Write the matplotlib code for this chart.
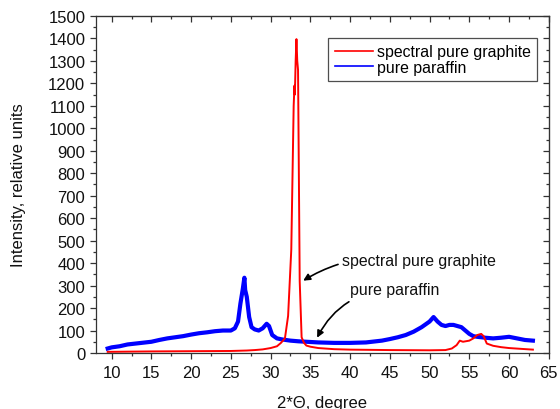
import matplotlib
matplotlib.use("Agg")
import matplotlib.pyplot as plt
from matplotlib.ticker import MultipleLocator

plt.rcParams['font.family'] = ['Liberation Sans', 'DejaVu Sans']

# pure paraffin (blue)
paraffin_x = [9.5, 10, 11, 12, 13, 14, 15, 16, 17, 18, 19, 20, 21, 22, 23, 24, 25,
              25.5, 25.9, 26.2, 26.5, 26.7, 26.8, 27.0, 27.3, 27.6, 28.0, 28.5, 29.0,
              29.5, 29.8, 30.2, 30.8, 31.5, 32.5, 33.5, 34.5, 36, 38, 40, 42, 44, 45,
              46, 47, 48, 49, 50, 50.5, 51, 51.5, 52, 52.5, 53, 53.5, 54, 54.5, 55,
              55.5, 56, 57, 58, 59, 60, 61, 62, 63]
paraffin_y = [20, 25, 30, 38, 42, 46, 50, 58, 65, 70, 75, 82, 88, 92, 97, 100, 100,
              110, 140, 220, 285, 335, 280, 250, 160, 115, 105, 100, 110,
              130, 120, 80, 65, 60, 55, 52, 50, 47, 45, 45, 47, 55, 62,
              70, 80, 95, 115, 140, 160, 140, 125, 120, 125, 125, 120, 115, 100, 85,
              75, 72, 68, 65, 68, 72, 65, 58, 55]

# spectral pure graphite (red)
graphite_x = [9.5, 12, 15, 20, 25, 27, 28, 29, 30, 30.8, 31.3, 31.8, 32.2, 32.6, 32.9,
              33.0, 33.05, 33.15, 33.25, 33.35, 33.45, 33.66, 33.9, 34.2, 34.5, 35.0,
              36, 38, 40, 45, 50, 52, 52.8, 53.4, 53.8, 54.2, 55, 55.5, 56, 56.5, 56.8,
              57.2, 58, 59, 60, 61.7, 63]
graphite_y = [5, 6, 7, 8, 9, 11, 13, 16, 22, 30, 45, 65, 165, 460, 1100,
              1190, 1150, 1300, 1397, 1300, 1260, 320, 70, 45, 33, 28,
              22, 17, 15, 13, 12, 13, 20, 35, 55, 50, 55, 65, 80, 85, 75,
              42, 32, 26, 22, 18, 15]

fig = plt.figure(figsize=(5.6, 4.1), dpi=100)
ax = fig.add_axes([0.171, 0.1366, 0.809, 0.822])

lb, = ax.plot(paraffin_x, paraffin_y, color='#0000ff', lw=3.0, label='pure paraffin')
lr, = ax.plot(graphite_x, graphite_y, color='#ff0000', lw=1.4, label='spectral pure graphite')

ax.set_xlim(8, 65)
ax.set_ylim(0, 1500)
ax.xaxis.set_major_locator(MultipleLocator(5))
ax.xaxis.set_minor_locator(MultipleLocator(2.5))
ax.yaxis.set_major_locator(MultipleLocator(100))
ax.yaxis.set_minor_locator(MultipleLocator(50))

ax.tick_params(which='both', direction='out', top=False, right=False, labelsize=12,
               width=0.9, color='#333333', labelcolor='#111111')
ax.tick_params(axis='x', which='major', pad=4)
ax.tick_params(axis='y', which='major', pad=3)
ax.tick_params(which='major', length=4.5)
ax.tick_params(which='minor', length=2.5)
for s in ax.spines.values():
    s.set_linewidth(0.9)
    s.set_color('#333333')

# mirrored ticks pointing inward on top and right
axt = ax.secondary_xaxis('top')
axt.xaxis.set_major_locator(MultipleLocator(5))
axt.xaxis.set_minor_locator(MultipleLocator(2.5))
axt.tick_params(which='both', direction='in', labeltop=False, width=0.9, color='#333333')
axt.tick_params(which='major', length=4.5)
axt.tick_params(which='minor', length=2.5)
axr = ax.secondary_yaxis('right')
axr.yaxis.set_major_locator(MultipleLocator(100))
axr.yaxis.set_minor_locator(MultipleLocator(50))
axr.tick_params(which='both', direction='in', labelright=False, width=0.9, color='#333333')
axr.tick_params(which='major', length=4.5)
axr.tick_params(which='minor', length=2.5)

ax.set_xlabel('2*\u0398, degree', fontsize=12, color='#111111')
ax.set_ylabel('Intensity, relative units', fontsize=12, color='#111111')
ax.xaxis.set_label_coords(0.5, -0.124)
ax.yaxis.set_label_coords(-0.155, 0.5)

leg = ax.legend(handles=[lr, lb], loc='upper right', bbox_to_anchor=(0.975, 0.935),
                fontsize=11.4, frameon=True, fancybox=False, edgecolor='#222222',
                handlelength=2.4, handletextpad=0.3, borderpad=0.4, labelspacing=0.05,
                borderaxespad=0)
leg.get_frame().set_linewidth(0.9)
for h in leg.legend_handles:
    h.set_linewidth(1.2)

ax.annotate('spectral pure graphite', xy=(34.1, 322), xytext=(39.0, 410),
            fontsize=11.4, va='center', ha='left', color='#111111',
            arrowprops=dict(arrowstyle='-|>', color='black', lw=1.2,
                            connectionstyle='arc3,rad=0.2', shrinkA=1, shrinkB=0,
                            mutation_scale=10))
ax.annotate('pure paraffin', xy=(35.85, 68), xytext=(40.0, 283),
            fontsize=11.4, va='center', ha='left', color='#111111',
            arrowprops=dict(arrowstyle='-|>', color='black', lw=1.2,
                            connectionstyle='arc3,rad=0.3', shrinkA=3, shrinkB=0,
                            mutation_scale=10))

fig.savefig('out.png', dpi=100)
